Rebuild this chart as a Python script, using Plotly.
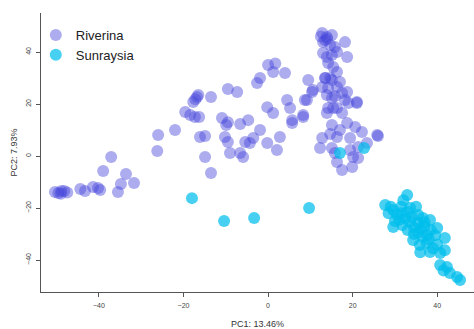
import plotly.graph_objects as go

# PCA scores for the two regions
riverina_pc1 = [
    -50.4, -49.6, -48.9, -48.2, -47.5, -49.0,
    -44.4, -43.3, -41.4, -40.2, -39.7,
    -37.1, -39.0, -34.8, -35.5, -33.6, -31.7,
    -26.2, -26.0, -22.0,
    -16.8, -17.7, -16.5, -17.2,
    -19.6, -18.4, -17.3, -16.3,
    -13.5, -9.5, -7.3,
    -10.9, -9.9, -9.5,
    -16.1, -14.9, -10.2, -9.5,
    -6.6, -4.7, -5.4, -3.5, -1.9,
    -0.2, 1.2, -2.6, -1.9, 0.0, 1.7, 1.2, 4.0,
    4.5, 5.2, -0.2, 2.1, 2.8,
    -14.9, -13.5, -9.0, -6.6, -5.9, -4.3,
    5.7, 8.3, 8.7, 9.5, 10.6, 12.8, 13.5, 14.7,
    12.8, 13.9, 15.1, 13.0, 14.7, 15.8, 18.2, 16.3, 13.0, 13.9, 15.1, 18.7,
    14.2, 15.4, 16.3, 13.5, 15.1, 17.0, 14.2, 16.3,
    10.4, 9.2, 13.9, 15.8, 17.5, 15.1, 18.7, 18.2, 21.0, 14.2, 16.3,
    8.3, 5.7, 13.9, 15.4, 17.5, 21.0, 19.0,
    15.1, 17.0, 18.7, 20.6, 22.2, 25.8, 16.3, 19.4, 12.8,
    12.3, 15.1, 15.8, 19.4, 21.3, 20.1, 16.3, 17.5, 19.9, 21.3, 23.4, 14.7,
    26.0, 13.5, 12.5, 14.0,
]
riverina_pc2 = [
    -13.8, -14.2, -13.5, -13.5, -14.0, -14.5,
    -12.7, -13.5, -11.9, -12.3, -13.1,
    -0.4, -5.8, -10.8, -13.8, -6.9, -10.4,
    1.9, 8.1, 10.0,
    22.7, 20.8, 23.5, 21.8,
    16.9, 15.8, 15.0, 15.0,
    22.7, 25.8, 24.6,
    14.6, 11.9, 13.0,
    7.3, 7.7, 7.3, 5.4,
    12.3, 13.8, 5.4, 6.9, 10.0,
    18.8, 16.5, 28.1, 30.0, 35.0, 35.6, 32.3, 31.9,
    21.5, 18.5, 5.0, 2.3, 7.3,
    -0.4, -6.5, 1.2, 1.2, -0.4, 5.0,
    13.8, 15.0, 21.5, 29.2, 25.4, 26.5, 30.0, 30.0,
    47.3, 45.8, 46.5, 43.8, 42.7, 41.9, 43.8, 40.0, 39.6, 38.1, 38.8, 38.1,
    35.8, 34.2, 32.3, 30.0, 29.2, 28.5, 26.2, 26.5,
    24.6, 21.5, 23.5, 23.0, 24.2, 22.3, 24.6, 21.5, 20.8, 18.5, 18.5,
    15.8, 12.7, 16.5, 18.5, 16.5, 20.4, 20.4,
    11.9, 10.0, 12.7, 11.2, 9.2, 8.1, 7.3, 6.9, 6.9,
    3.1, 3.1, 1.2, 2.3, 3.5, -0.4, -2.3, -5.4, -4.2, -0.8, 5.0, 8.5,
    7.7, 44.5, 46.0, 45.0,
]

sunraysia_pc1 = [
    -18.0, -10.4, -3.3, 9.7, 17.0, 22.7,
    27.7, 29.0, 32.9, 32.0, 31.5, 29.6, 30.5, 33.6, 35.0, 35.5, 34.0, 32.5,
    29.6, 31.7, 33.6, 35.5, 36.6, 38.3, 37.0, 38.5, 40.0, 39.5, 41.8, 37.6,
    35.5, 34.3, 35.9, 37.5, 38.3, 40.7, 41.8, 40.0, 36.5, 33.0, 31.0, 34.5,
    36.0, 38.0, 39.0, 40.7, 42.3, 43.0, 44.7, 45.4, 41.5, 30.0, 28.5, 36.0,
    33.0, 34.5, 37.0, 31.5,
]
sunraysia_pc2 = [
    -16.2, -25.0, -23.8, -20.0, 1.2, 3.1,
    -18.8, -19.5, -15.0, -17.0, -19.5, -20.8, -22.5, -20.0, -19.5, -22.7, -23.5, -24.0,
    -27.3, -26.5, -25.4, -25.8, -23.8, -24.6, -27.0, -28.5, -27.7, -30.5, -31.5, -30.4,
    -29.5, -32.3, -34.2, -33.5, -36.9, -37.3, -36.2, -34.0, -31.0, -28.5, -24.5, -27.5,
    -28.0, -32.0, -35.5, -41.9, -42.7, -45.0, -46.5, -47.7, -44.0, -25.0, -22.0, -37.0,
    -21.5, -30.0, -25.5, -22.0,
]

x_ticks = [-40, -20, 0, 20, 40]
y_ticks = [-40, -20, 0, 20, 40]

fig = go.Figure()
fig.add_trace(go.Scatter(
    x=riverina_pc1, y=riverina_pc2, mode="markers", name="Riverina",
    marker=dict(size=12, color="rgb(70,70,220)", opacity=0.45, line=dict(width=0)),
))
fig.add_trace(go.Scatter(
    x=sunraysia_pc1, y=sunraysia_pc2, mode="markers", name="Sunraysia",
    marker=dict(size=12, color="rgb(0,190,235)", opacity=0.72, line=dict(width=0)),
))

axis_common = dict(
    showgrid=False, zeroline=False, showline=True, linecolor="#555555", linewidth=1,
    ticks="outside", ticklen=4, tickcolor="#555555", tickwidth=1,
    tickfont=dict(family="Liberation Sans, Arial, sans-serif", size=7, color="#444444"),
)

fig.update_layout(
    width=474, height=329,
    margin=dict(l=41, r=0, t=13, b=37),
    plot_bgcolor="white", paper_bgcolor="white",
    font=dict(family="Liberation Sans, Arial, sans-serif", color="#333333"),
    showlegend=True,
    legend=dict(
        x=-0.012, y=0.975, xanchor="left", yanchor="top",
        bgcolor="rgba(0,0,0,0)", font=dict(size=13, color="#222222"),
        itemsizing="constant", tracegroupgap=0,
    ),
    xaxis=dict(
        range=[-53.7, 48.7], tickvals=x_ticks, ticklabelstandoff=3,
        title=dict(text="PC1: 13.46%", font=dict(size=9, color="#333333"), standoff=12),
        **axis_common,
    ),
    yaxis=dict(
        range=[-52.3, 55.0], tickvals=y_ticks, tickangle=-90, ticklabelstandoff=2,
        title=dict(text="PC2: 7.93%", font=dict(size=9, color="#333333"), standoff=6),
        **axis_common,
    ),
)

fig.write_html("out.html")
